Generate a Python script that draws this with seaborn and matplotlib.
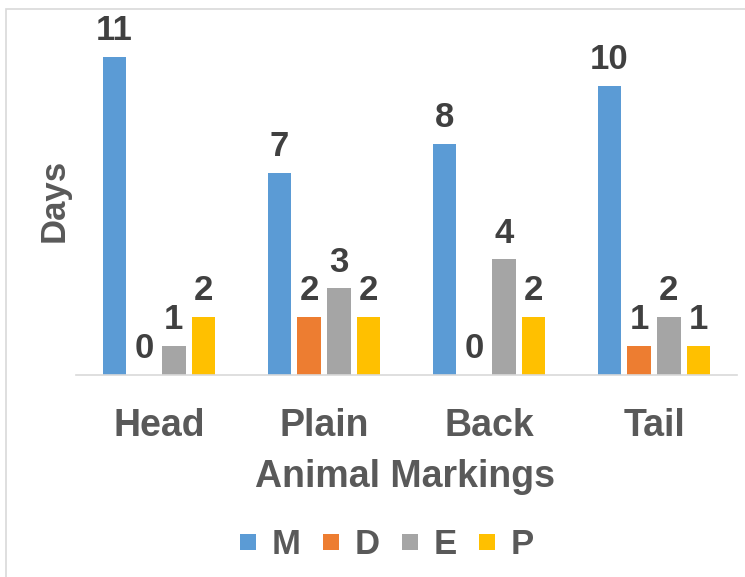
import matplotlib
matplotlib.use("Agg")
import matplotlib.pyplot as plt
from matplotlib.patches import Rectangle
from matplotlib.lines import Line2D
import seaborn as sns
import pandas as pd

categories = ["Head", "Plain", "Back", "Tail"]
series = ["M", "D", "E", "P"]
M_vals = [11, 7, 8, 10]
D_vals = [0, 2, 0, 1]
E_vals = [1, 3, 4, 2]
P_vals = [2, 2, 2, 1]
colors = ["#5B9BD5", "#ED7D31", "#A5A5A5", "#FFC000"]

rows = []
for s, vals in zip(series, [M_vals, D_vals, E_vals, P_vals]):
    for c, v in zip(categories, vals):
        rows.append({"cat": c, "series": s, "val": v})
df = pd.DataFrame(rows)

sns.set_theme(style="white")
plt.rcParams["font.family"] = ["Liberation Sans", "DejaVu Sans"]

W, H = 745, 577
fig = plt.figure(figsize=(W / 100, H / 100), dpi=100)
ax_left, ax_right, ax_base, ax_top = 76.5, 736.5, 375, 28
ax = fig.add_axes([ax_left / W, (H - ax_base) / H, (ax_right - ax_left) / W, (ax_base - ax_top) / H])

sns.barplot(data=df, x="cat", y="val", hue="series", order=categories, hue_order=series,
            palette=colors, saturation=1, width=0.72, gap=0.2, linewidth=0, legend=False, ax=ax)

ax.set_xlim(-0.5, 3.5)
ax.set_ylim(0, 12)
for cont in ax.containers:
    ax.bar_label(cont, fmt="%d", padding=7, fontsize=25, fontweight="bold", color="#404040")

for sp in ["top", "right", "left"]:
    ax.spines[sp].set_visible(False)
ax.spines["bottom"].set_color("#D9D9D9")
ax.spines["bottom"].set_linewidth(1.2)
ax.set_yticks([])
ax.tick_params(axis="x", length=0, pad=24, labelsize=27, labelcolor="#595959")
for t in ax.get_xticklabels():
    t.set_fontweight("bold")

ax.set_xlabel("Animal Markings", fontsize=27, fontweight="bold", color="#595959")
ax.xaxis.set_label_coords(0.497, (ax_base - 477) / (ax_base - ax_top))
ax.xaxis.label.set_va("center")
ax.set_ylabel("Days", fontsize=25, fontweight="bold", color="#595959")
ax.yaxis.set_label_coords((54 - ax_left) / (ax_right - ax_left), (ax_base - 200) / (ax_base - ax_top))
ax.yaxis.label.set_va("center")

handles = [Line2D([], [], marker="s", linestyle="none", markersize=11.5, markerfacecolor=c,
                  markeredgewidth=0) for c in colors]
leg = fig.legend(handles, series, loc="center", bbox_to_anchor=(384 / W, (H - 545) / H),
                 ncol=4, frameon=False, handletextpad=0.3, columnspacing=0.45, handlelength=0.8,
                 prop={"size": 25, "weight": "bold"})
for t in leg.get_texts():
    t.set_color("#595959")

fig.patches.append(Rectangle((6 / W, -0.05), 1.1, (H - 9) / H + 0.05, transform=fig.transFigure,
                             fill=False, edgecolor="#D9D9D9", linewidth=1.2))

fig.savefig("out.png", dpi=100)
